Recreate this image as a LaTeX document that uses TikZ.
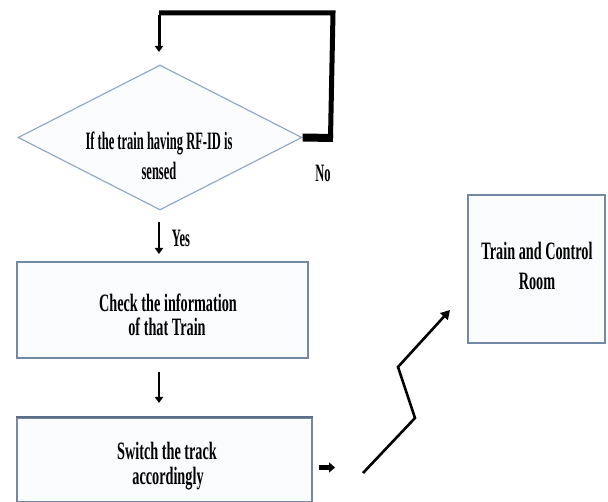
\documentclass[tikz,border=0pt]{standalone}
\usepackage{fontspec}
\setmainfont{Liberation Serif}
\usetikzlibrary{shapes.geometric,arrows.meta}
\definecolor{boxline}{HTML}{7189A6}
\definecolor{dialine}{HTML}{8FAACB}
\definecolor{boxfill}{HTML}{FBFCFE}
\newcommand{\lbl}[1]{\scalebox{0.57}[1]{\bfseries #1}}
\newcommand{\dlbl}[1]{\scalebox{0.50}[1]{\bfseries #1}}
\tikzset{
  procbox/.style={draw=boxline,line width=1.6pt,fill=boxfill,inner sep=0pt},
  txt/.style={anchor=base,font=\fontsize{25}{26}\selectfont,inner sep=0pt},
  flowarrow/.style={line width=2.6pt,-{Triangle[width=8pt,length=6pt]}},
  loopline/.style={line width=5pt}
}
\begin{document}
\begin{tikzpicture}[x=1pt,y=-1pt]
\useasboundingbox (0,0) rectangle (608,502);
% decision diamond
\node[diamond,draw=dialine,line width=1.2pt,fill=boxfill,minimum width=284pt,minimum height=145pt,inner sep=0pt] (dia) at (160,137.5) {};
\node[txt] (dt1) at (159,150) {\dlbl{If the train having RF-ID is}};
\node[txt] (dt2) at (159,180) {\dlbl{sensed}};
% feedback loop
\coordinate (lr) at (333,138);
\coordinate (tr) at (333,13);
\coordinate (tl) at (159,13);
\coordinate (tip) at (159,52);
\draw[line width=8pt] (dia.east) -- (lr);
\draw[loopline] ([xshift=-2.5pt]lr) -- (tr) -- (tl);
\draw[line width=3pt,-{Triangle[width=8pt,length=6pt]}] ([yshift=-2.5pt]tl) -- (tip);
\node[txt] (no) at (323,182) {\dlbl{No}};
% check box
\node[procbox,minimum width=291pt,minimum height=96pt] (check) at (162.5,310) {};
\node[txt] (ct1) at (168,312) {\lbl{Check the information}};
\node[txt] (ct2) at (167,336) {\lbl{of that Train}};
\coordinate (yesstart) at (159,222);
\draw[flowarrow] (yesstart) -- (159,254) coordinate (yesend);
\node[txt] (yes) at (181,247) {\dlbl{Yes}};
% switch box
\node[procbox,minimum width=295pt,minimum height=84pt] (switch) at (164.5,460) {};
\draw[line width=2.2pt,draw=boxline!80!black] (switch.north west) -- (switch.north east);
\node[txt] (st1) at (167,460) {\lbl{Switch the track}};
\node[txt] (st2) at (168,485) {\lbl{accordingly}};
\coordinate (c2s) at (159,372);
\draw[flowarrow] (c2s) -- (159,403) coordinate (c2e);
% small arrow
\coordinate (sa) at (319,467.5);
\draw[line width=5pt,-{Triangle[width=10pt,length=6pt]}] (sa) -- (335,467.5) coordinate (sb);
% control room box
\node[procbox,minimum width=137pt,minimum height=148pt] (room) at (536.5,269) {};
\node[txt] (rt1) at (537,260) {\lbl{Train and Control}};
\node[txt] (rt2) at (537,290) {\lbl{Room}};
% zigzag connector
\coordinate (z0) at (363,473);
\coordinate (z1) at (415,418);
\coordinate (z2) at (398,367);
\coordinate (z3) at (450,310);
\draw[line width=2.6pt,-{Triangle[width=10pt,length=9pt]}] (z0) -- (z1) -- (z2) -- (z3);
\end{tikzpicture}
\end{document}
